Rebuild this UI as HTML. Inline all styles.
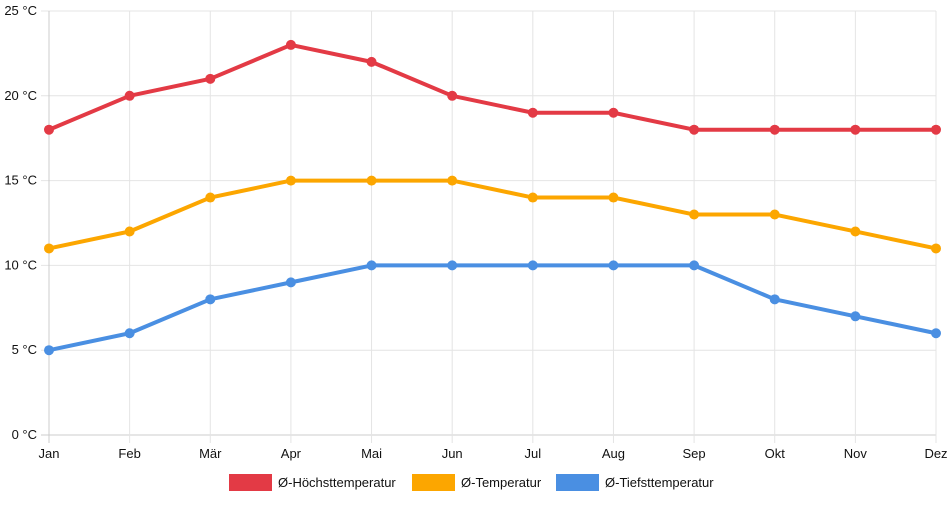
<!DOCTYPE html>
<html><head><meta charset="utf-8"><style>
body{margin:0;background:#fff;font-family:"Liberation Sans",sans-serif}
svg text{font-family:"Liberation Sans",sans-serif;font-size:13px;fill:#111}
</style></head><body>
<svg id="chart" width="952" height="500">
<g id="grid"></g>
<g id="yaxis"></g>
<g id="xaxis"></g>
<g id="series"></g>
<g id="legend"></g>
</svg>
<script>
const months=["Jan","Feb","Mär","Apr","Mai","Jun","Jul","Aug","Sep","Okt","Nov","Dez"];
const highs=[18,20,21,23,22,20,19,19,18,18,18,18];
const means=[11,12,14,15,15,15,14,14,13,13,12,11];
const lows=[5,6,8,9,10,10,10,10,10,8,7,6];
const yTicks=[0,5,10,15,20,25];
const seriesNames=["Ø-Höchsttemperatur","Ø-Temperatur","Ø-Tiefsttemperatur"];
const colors=["#e33a45","#fca600","#4a8fe2"];
const NS="http://www.w3.org/2000/svg";
const x0=49,x1=936,y0=435,y1=11;
const xs=i=>x0+i*(x1-x0)/(months.length-1);
const ys=v=>y0-(v-0)*(y0-y1)/25;
function mk(tag,attrs,parent){const e=document.createElementNS(NS,tag);for(const k in attrs)e.setAttribute(k,attrs[k]);parent.appendChild(e);return e;}
const grid=document.getElementById('grid'),ya=document.getElementById('yaxis'),xa=document.getElementById('xaxis'),sg=document.getElementById('series'),lg=document.getElementById('legend');
yTicks.forEach(v=>{
 const l=mk('line',{x1:41,x2:x1,y1:ys(v),y2:ys(v),stroke:v===0?'#ccc':'#e4e4e4','stroke-width':1},grid);
 
 
 const t=mk('text',{x:37,y:ys(v)+4,'text-anchor':'end'},ya);t.textContent=v+' °C';
 
 
});
months.forEach((m,i)=>{
 const l=mk('line',{x1:xs(i),x2:xs(i),y1:y1,y2:443,stroke:i===0?'#ccc':'#e4e4e4','stroke-width':1},grid);
 
 
 const t=mk('text',{x:xs(i),y:458,'text-anchor':'middle'},xa);t.textContent=m;
 
 
});
[highs,means,lows].forEach((d,s)=>{
 const g=mk('g',{},sg);
 
 
 const p=mk('polyline',{points:d.map((v,i)=>xs(i)+','+ys(v)).join(' '),fill:'none',stroke:colors[s],'stroke-width':4,'stroke-linejoin':'round'},g);
 
 
 d.forEach((v,i)=>{const c=mk('circle',{cx:xs(i),cy:ys(v),r:5,fill:colors[s]},g);
 
 });
});
const lx=[229,412,556];
seriesNames.forEach((n,s)=>{
 const g=mk('g',{},lg);
 
 
 mk('rect',{x:lx[s],y:474,width:43,height:17,fill:colors[s]},g);
 const t=mk('text',{x:lx[s]+49,y:487},g);t.textContent=n;
});
</script>
</body></html>
